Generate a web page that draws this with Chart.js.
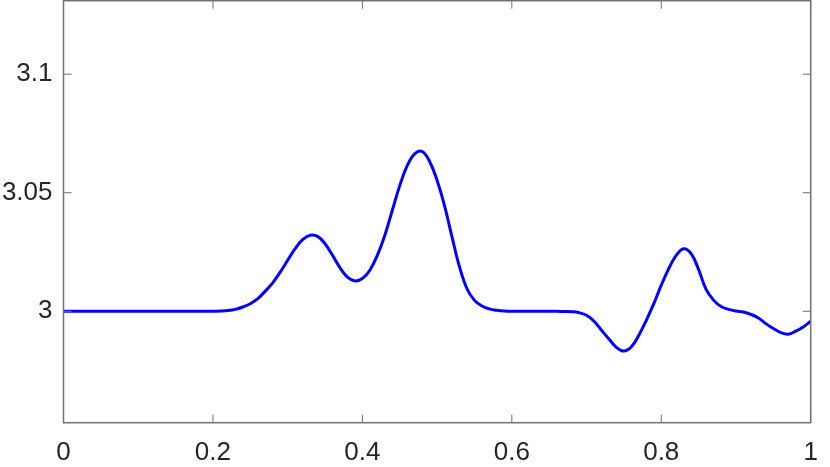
<!DOCTYPE html>
<html>
<head>
<meta charset="utf-8">
<script src="https://cdn.jsdelivr.net/npm/chart.js@4"></script>
<style>
  html, body { margin: 0; padding: 0; background: #fff; }
  #wrap { width: 830px; height: 467px; }
</style>
</head>
<body>
<div id="wrap"><canvas id="chart"></canvas></div>
<script>
// values
const xValues = [0, 0.05, 0.1, 0.15, 0.2,
  0.21, 0.22, 0.23, 0.24, 0.25, 0.26, 0.27, 0.28, 0.29, 0.30,
  0.31, 0.32, 0.33, 0.34, 0.35, 0.36, 0.37, 0.38, 0.39, 0.40,
  0.41, 0.42, 0.43, 0.44, 0.45, 0.46, 0.47, 0.48, 0.49, 0.50,
  0.51, 0.52, 0.53, 0.54, 0.55, 0.56, 0.57, 0.58, 0.59, 0.60,
  0.61, 0.62, 0.63, 0.64, 0.65, 0.66, 0.67, 0.68,
  0.69, 0.70, 0.71, 0.72, 0.73, 0.74, 0.75, 0.76, 0.77, 0.78,
  0.79, 0.80, 0.81, 0.82, 0.83, 0.84, 0.85, 0.86, 0.87, 0.88,
  0.89, 0.90, 0.91, 0.92, 0.93, 0.94, 0.95, 0.96, 0.97, 0.98,
  0.99, 1.00];
const yValues = [3.0, 3.0, 3.0, 3.0, 3.0,
  3.0001, 3.0003, 3.0008, 3.0018, 3.0032, 3.0053, 3.0085, 3.0120, 3.0165, 3.0215,
  3.0264, 3.0302, 3.0321, 3.0316, 3.0285, 3.0236, 3.0184, 3.0144, 3.0128, 3.0138,
  3.0173, 3.0236, 3.0320, 3.0425, 3.0530, 3.0614, 3.0664, 3.0674, 3.0632, 3.0552,
  3.0445, 3.0313, 3.0187, 3.0095, 3.0046, 3.0022, 3.0010, 3.0004, 3.0001, 3.0,
  3.0, 3.0, 3.0, 3.0, 3.0, 3.0, 2.9999, 2.9998,
  2.9994, 2.9983, 2.9958, 2.9920, 2.9883, 2.9848, 2.9832, 2.9850, 2.9899, 2.9962,
  3.0032, 3.0110, 3.0180, 3.0236, 3.0264, 3.0243, 3.0176, 3.0092, 3.0047, 3.0020,
  3.0008, 3.0001, 2.9997, 2.9987, 2.9972, 2.9948, 2.9927, 2.9910, 2.9903, 2.9916,
  2.9934, 2.9958];
const xTicks = [0, 0.2, 0.4, 0.6, 0.8, 1];
const yTicks = [3, 3.05, 3.1];

const axisColor = "#707070";
const labelColor = "#262626";
const fontSpec = { family: "'Liberation Sans', Arial, sans-serif", size: 26 };

// box around the axes plus inward tick marks on all four sides
const boxPlugin = {
  id: "box",
  afterDraw(chart) {
    const { ctx, chartArea: a, scales } = chart;
    ctx.save();
    ctx.strokeStyle = axisColor;
    ctx.lineWidth = 1.5;
    ctx.strokeRect(a.left, a.top, a.right - a.left, a.bottom - a.top);
    ctx.lineWidth = 1;
    ctx.beginPath();
    xTicks.forEach(v => {
      const px = scales.x.getPixelForValue(v);
      ctx.moveTo(px, a.bottom); ctx.lineTo(px, a.bottom - 8);
      ctx.moveTo(px, a.top); ctx.lineTo(px, a.top + 8);
    });
    yTicks.forEach(v => {
      const py = scales.y.getPixelForValue(v);
      ctx.moveTo(a.left, py); ctx.lineTo(a.left + 8, py);
      ctx.moveTo(a.right, py); ctx.lineTo(a.right - 8, py);
    });
    ctx.stroke();
    ctx.restore();
  }
};

new Chart(document.getElementById("chart").getContext("2d"), {
  type: "line",
  data: {
    datasets: [{
      data: xValues.map((x, i) => ({ x, y: yValues[i] })),
      borderColor: "#0000ff",
      borderWidth: 3,
      pointRadius: 0,
      fill: false,
      tension: 0.4,
    }]
  },
  options: {
    responsive: true,
    maintainAspectRatio: false,
    animation: false,
    layout: { padding: { top: 0.7, right: 19.3, left: 0, bottom: 0 } },
    plugins: { legend: { display: false }, tooltip: { enabled: false } },
    scales: {
      x: {
        type: "linear",
        min: 0,
        max: 1,
        afterBuildTicks: s => { s.ticks = xTicks.map(value => ({ value })); },
        afterFit: s => { s.height = 44.3; s.paddingLeft = 0; s.paddingRight = 0; },
        grid: { display: false, drawTicks: false },
        border: { display: false },
        ticks: { color: labelColor, font: fontSpec, padding: 15, maxRotation: 0, callback: v => String(v) }
      },
      y: {
        min: 2.953,
        max: 3.131,
        afterBuildTicks: s => { s.ticks = yTicks.map(value => ({ value })); },
        afterFit: s => { s.width = 63.5; s.paddingTop = 0; s.paddingBottom = 0; },
        grid: { display: false, drawTicks: false },
        border: { display: false },
        ticks: { color: labelColor, font: fontSpec, padding: 11, callback: v => String(v) }
      }
    }
  },
  plugins: [boxPlugin]
});
</script>
</body>
</html>
